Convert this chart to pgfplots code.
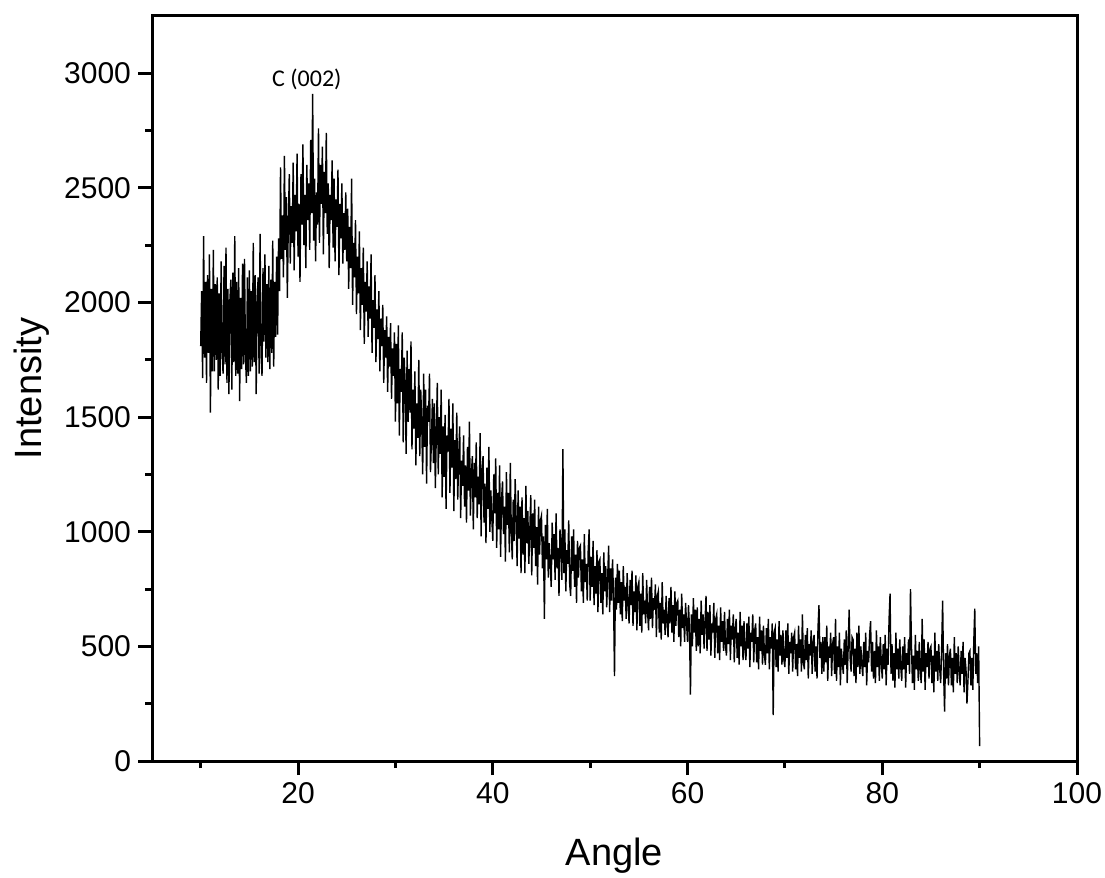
\documentclass[border=0pt]{standalone}
\usepackage{pgfplots}
\pgfplotsset{compat=1.18}
\usepackage{fontspec}
\setmainfont{Liberation Sans}
\newfontfamily\calibri{Carlito}
\begin{document}
\begin{tikzpicture}
\begin{axis}[
  scale only axis, width=462.5pt, height=372.5pt,
  xmin=5, xmax=100, ymin=0, ymax=3250,
  xtick={20,40,60,80,100}, minor xtick={10,30,50,70,90},
  ytick={0,500,1000,1500,2000,2500,3000},
  minor ytick={250,750,1250,1750,2250,2750},
  xtick pos=left, ytick pos=left,
  tick align=outside, major tick length=7pt, minor tick length=3.5pt,
  axis line style={line width=1.5pt},
  every tick/.style={line width=1.5pt, black},
  tick label style={font=\fontsize{15}{18}\selectfont},
  /pgf/number format/assume math mode=true,
  scaled y ticks=false,
  yticklabel style={/pgf/number format/1000 sep={}},
  xlabel=Angle, ylabel=Intensity,
  every axis x label/.style={at={(axis description cs:0.5,-0.1396)}, anchor=base, font=\fontsize{19}{23}\selectfont},
  every axis y label/.style={at={(axis description cs:-0.1193,0.5)}, rotate=90, anchor=base, font=\fontsize{19}{23}\selectfont},
]
\addplot[black, line width=0.7pt, mark=none] coordinates {
(10.0,1810)(10.1,2050)(10.2,1670)(10.3,2290)(10.4,1760)(10.5,2090)(10.6,1650)(10.7,2120)(10.8,1780)(10.9,2210)
(11.0,1520)(11.1,2060)(11.2,1700)(11.3,2230)(11.4,1700)(11.5,2080)(11.6,1750)(11.7,2110)(11.8,1620)(11.9,2040)
(12.0,1680)(12.1,2180)(12.2,1790)(12.3,1690)(12.4,2160)(12.5,1730)(12.6,2240)(12.7,1650)(12.8,2060)(12.9,1600)
(13.0,2010)(13.1,2100)(13.2,1620)(13.3,2130)(13.4,1740)(13.5,2290)(13.6,1680)(13.7,2090)(13.8,1690)(13.9,2150)
(14.0,1570)(14.1,2020)(14.2,1710)(14.3,2170)(14.4,1730)(14.5,2190)(14.6,1760)(14.7,1650)(14.8,2110)(14.9,1680)
(15.0,2140)(15.1,1700)(15.2,2050)(15.3,1720)(15.4,2260)(15.5,1740)(15.6,2120)(15.7,1600)(15.8,2000)(15.9,2110)
(16.0,1690)(16.1,2300)(16.2,1770)(16.3,1680)(16.4,2150)(16.5,1830)(16.6,2210)(16.7,1760)(16.8,2080)(16.9,1740)
(17.0,2160)(17.1,1710)(17.2,2100)(17.3,1780)(17.4,2270)(17.5,1720)(17.6,2090)(17.7,1850)(17.8,2200)(17.9,1860)
(18.0,2280)(18.1,2050)(18.2,2590)(18.3,2190)(18.4,2380)(18.5,2110)(18.6,2640)(18.7,2230)(18.8,2460)(18.9,2020)
(19.0,2350)(19.1,2560)(19.2,2170)(19.3,2420)(19.4,2260)(19.5,2610)(19.6,2140)(19.7,2470)(19.8,2310)(19.9,2650)
(20.0,2200)(20.1,2430)(20.2,2090)(20.3,2560)(20.4,2340)(20.5,2690)(20.6,2250)(20.7,2470)(20.8,2150)(20.9,2600)
(21.0,2360)(21.1,2520)(21.2,2230)(21.3,2710)(21.4,2390)(21.5,2910)(21.6,2270)(21.7,2540)(21.8,2180)(21.9,2480)
(22.0,2340)(22.1,2760)(22.2,2260)(22.3,2600)(22.4,2430)(22.5,2680)(22.6,2210)(22.7,2570)(22.8,2390)(22.9,2740)
(23.0,2300)(23.1,2520)(23.2,2150)(23.3,2470)(23.4,2360)(23.5,2620)(23.6,2240)(23.7,2540)(23.8,2180)(23.9,2450)
(24.0,2330)(24.1,2580)(24.2,2120)(24.3,2430)(24.4,2280)(24.5,2520)(24.6,2170)(24.7,2390)(24.8,2230)(24.9,2480)
(25.0,2180)(25.1,2410)(25.2,2060)(25.3,2330)(25.4,2150)(25.5,2540)(25.6,1990)(25.7,2260)(25.8,2110)(25.9,2360)
(26.0,1950)(26.1,2200)(26.2,2040)(26.3,2310)(26.4,1880)(26.5,2150)(26.6,1990)(26.7,2240)(26.8,1820)(26.9,2090)
(27.0,1960)(27.1,2180)(27.2,1850)(27.3,2070)(27.4,1930)(27.5,2210)(27.6,1780)(27.7,2010)(27.8,1890)(27.9,2120)
(28.0,1740)(28.1,1970)(28.2,1840)(28.3,2050)(28.4,1700)(28.5,1930)(28.6,1810)(28.7,1990)(28.8,1650)(28.9,1880)
(29.0,1760)(29.1,1940)(29.2,1610)(29.3,1850)(29.4,1720)(29.5,1910)(29.6,1580)(29.7,1800)(29.8,1680)(29.9,1870)
(30.0,1480)(30.1,1820)(30.2,1560)(30.3,1900)(30.4,1420)(30.5,1710)(30.6,1610)(30.7,1870)(30.8,1390)(30.9,1760)
(31.0,1650)(31.1,1340)(31.2,1790)(31.3,1480)(31.4,1710)(31.5,1520)(31.6,1830)(31.7,1360)(31.8,1620)(31.9,1450)
(32.0,1700)(32.1,1290)(32.2,1560)(32.3,1410)(32.4,1750)(32.5,1330)(32.6,1620)(32.7,1480)(32.8,1250)(32.9,1690)
(33.0,1370)(33.1,1620)(33.2,1210)(33.3,1550)(33.4,1480)(33.5,1690)(33.6,1260)(33.7,1400)(33.8,1580)(33.9,1300)
(34.0,1560)(34.1,1190)(34.2,1430)(34.3,1650)(34.4,1250)(34.5,1500)(34.6,1340)(34.7,1620)(34.8,1150)(34.9,1460)
(35.0,1240)(35.1,1510)(35.2,1100)(35.3,1420)(35.4,1350)(35.5,1580)(35.6,1170)(35.7,1450)(35.8,1280)(35.9,1560)
(36.0,1090)(36.1,1400)(36.2,1230)(36.3,1520)(36.4,1140)(36.5,1330)(36.6,1460)(36.7,1060)(36.8,1310)(36.9,1200)
(37.0,1420)(37.1,1110)(37.2,1290)(37.3,1040)(37.4,1370)(37.5,1180)(37.6,1480)(37.7,1070)(37.8,1250)(37.9,1330)
(38.0,1010)(38.1,1300)(38.2,1150)(38.3,1390)(38.4,1060)(38.5,1240)(38.6,1120)(38.7,1430)(38.8,980)(38.9,1270)
(39.0,1330)(39.1,1040)(39.2,1210)(39.3,950)(39.4,1280)(39.5,1100)(39.6,1370)(39.7,1000)(39.8,1180)(39.9,1060)
(40.0,960)(40.1,1250)(40.2,1080)(40.3,1320)(40.4,930)(40.5,1170)(40.6,1010)(40.7,1290)(40.8,890)(40.9,1140)
(41.0,1220)(41.1,990)(41.2,1110)(41.3,870)(41.4,1260)(41.5,1030)(41.6,1170)(41.7,910)(41.8,1300)(41.9,1000)
(42.0,880)(42.1,1140)(42.2,960)(42.3,1230)(42.4,1050)(42.5,850)(42.6,1180)(42.7,970)(42.8,1110)(42.9,820)
(43.0,1150)(43.1,900)(43.2,1060)(43.3,820)(43.4,1200)(43.5,950)(43.6,1090)(43.7,860)(43.8,1000)(43.9,1160)
(44.0,810)(44.1,1080)(44.2,930)(44.3,1140)(44.4,850)(44.5,1020)(44.6,770)(44.7,1110)(44.8,900)(44.9,1050)
(45.0,1070)(45.1,840)(45.2,980)(45.3,620)(45.4,1030)(45.5,880)(45.6,1100)(45.7,800)(45.8,950)(45.9,860)
(46.0,760)(46.1,1040)(46.2,880)(46.3,990)(46.4,790)(46.5,1080)(46.6,840)(46.7,930)(46.8,720)(46.9,1010)
(47.0,950)(47.1,790)(47.2,1360)(47.3,820)(47.4,1010)(47.5,740)(47.6,920)(47.7,860)(47.8,1050)(47.9,770)
(48.0,720)(48.1,980)(48.2,830)(48.3,1010)(48.4,760)(48.5,900)(48.6,690)(48.7,960)(48.8,800)(48.9,930)
(49.0,940)(49.1,740)(49.2,880)(49.3,690)(49.4,990)(49.5,780)(49.6,860)(49.7,700)(49.8,920)(49.9,1010)
(50.0,700)(50.1,890)(50.2,760)(50.3,960)(50.4,680)(50.5,850)(50.6,730)(50.7,920)(50.8,650)(50.9,870)
(51.0,880)(51.1,690)(51.2,820)(51.3,640)(51.4,910)(51.5,740)(51.6,850)(51.7,670)(51.8,800)(51.9,940)
(52.0,650)(52.1,840)(52.2,700)(52.3,880)(52.4,720)(52.5,370)(52.6,800)(52.7,660)(52.8,860)(52.9,690)
(53.0,830)(53.1,640)(53.2,780)(53.3,610)(53.4,850)(53.5,700)(53.6,760)(53.7,620)(53.8,820)(53.9,680)
(54.0,600)(54.1,790)(54.2,680)(54.3,830)(54.4,590)(54.5,740)(54.6,650)(54.7,810)(54.8,570)(54.9,760)
(55.0,780)(55.1,590)(55.2,730)(55.3,560)(55.4,820)(55.5,640)(55.6,700)(55.7,600)(55.8,790)(55.9,650)
(56.0,570)(56.1,760)(56.2,620)(56.3,800)(56.4,580)(56.5,710)(56.6,660)(56.7,770)(56.8,540)(56.9,720)
(57.0,740)(57.1,560)(57.2,690)(57.3,530)(57.4,780)(57.5,600)(57.6,660)(57.7,550)(57.8,720)(57.9,610)
(58.0,540)(58.1,710)(58.2,600)(58.3,760)(58.4,560)(58.5,680)(58.6,520)(58.7,740)(58.8,590)(58.9,690)
(59.0,700)(59.1,540)(59.2,660)(59.3,500)(59.4,730)(59.5,580)(59.6,640)(59.7,520)(59.8,690)(59.9,600)
(60.0,520)(60.1,680)(60.2,580)(60.3,290)(60.4,640)(60.5,500)(60.6,710)(60.7,560)(60.8,660)(60.9,480)
(61.0,670)(61.1,500)(61.2,620)(61.3,470)(61.4,700)(61.5,550)(61.6,640)(61.7,490)(61.8,610)(61.9,720)
(62.0,480)(62.1,650)(62.2,530)(62.3,680)(62.4,460)(62.5,600)(62.6,560)(62.7,690)(62.8,450)(62.9,620)
(63.0,640)(63.1,470)(63.2,590)(63.3,440)(63.4,670)(63.5,520)(63.6,610)(63.7,480)(63.8,650)(63.9,500)
(64.0,460)(64.1,620)(64.2,510)(64.3,660)(64.4,440)(64.5,590)(64.6,530)(64.7,640)(64.8,430)(64.9,580)
(65.0,620)(65.1,450)(65.2,560)(65.3,420)(65.4,650)(65.5,500)(65.6,590)(65.7,440)(65.8,610)(65.9,480)
(66.0,440)(66.1,600)(66.2,490)(66.3,630)(66.4,410)(66.5,560)(66.6,520)(66.7,640)(66.8,430)(66.9,570)
(67.0,600)(67.1,430)(67.2,540)(67.3,400)(67.4,630)(67.5,480)(67.6,570)(67.7,420)(67.8,590)(67.9,460)
(68.0,420)(68.1,580)(68.2,470)(68.3,620)(68.4,400)(68.5,540)(68.6,490)(68.7,600)(68.8,200)(68.9,560)
(69.0,580)(69.1,410)(69.2,530)(69.3,390)(69.4,610)(69.5,460)(69.6,550)(69.7,420)(69.8,570)(69.9,440)
(70.0,410)(70.1,570)(70.2,450)(70.3,600)(70.4,380)(70.5,520)(70.6,470)(70.7,560)(70.8,390)(70.9,540)
(71.0,560)(71.1,400)(71.2,510)(71.3,370)(71.4,590)(71.5,450)(71.6,530)(71.7,390)(71.8,640)(71.9,430)
(72.0,400)(72.1,550)(72.2,440)(72.3,580)(72.4,360)(72.5,510)(72.6,460)(72.7,570)(72.8,380)(72.9,520)
(73.0,550)(73.1,390)(73.2,500)(73.3,360)(73.4,580)(73.5,680)(73.6,450)(73.7,520)(73.8,380)(73.9,540)
(74.0,390)(74.1,540)(74.2,430)(74.3,590)(74.4,350)(74.5,500)(74.6,450)(74.7,560)(74.8,370)(74.9,510)
(75.0,540)(75.1,380)(75.2,620)(75.3,350)(75.4,500)(75.5,410)(75.6,560)(75.7,330)(75.8,490)(75.9,430)
(76.0,380)(76.1,530)(76.2,420)(76.3,570)(76.4,340)(76.5,500)(76.6,660)(76.7,450)(76.8,390)(76.9,540)
(77.0,530)(77.1,370)(77.2,490)(77.3,340)(77.4,560)(77.5,410)(77.6,590)(77.7,380)(77.8,500)(77.9,420)
(78.0,370)(78.1,520)(78.2,410)(78.3,560)(78.4,330)(78.5,480)(78.6,430)(78.7,550)(78.8,610)(78.9,390)
(79.0,520)(79.1,360)(79.2,480)(79.3,340)(79.4,570)(79.5,410)(79.6,500)(79.7,350)(79.8,540)(79.9,430)
(80.0,360)(80.1,510)(80.2,400)(80.3,550)(80.4,330)(80.5,490)(80.6,420)(80.7,620)(80.8,730)(80.9,380)
(81.0,510)(81.1,350)(81.2,470)(81.3,320)(81.4,560)(81.5,400)(81.6,490)(81.7,360)(81.8,530)(81.9,410)
(82.0,350)(82.1,500)(82.2,400)(82.3,540)(82.4,320)(82.5,470)(82.6,420)(82.7,530)(82.8,380)(82.9,750)
(83.0,500)(83.1,340)(83.2,460)(83.3,310)(83.4,550)(83.5,400)(83.6,480)(83.7,350)(83.8,520)(83.9,390)
(84.0,340)(84.1,620)(84.2,390)(84.3,530)(84.4,310)(84.5,470)(84.6,410)(84.7,520)(84.8,360)(84.9,490)
(85.0,500)(85.1,340)(85.2,460)(85.3,300)(85.4,560)(85.5,390)(85.6,480)(85.7,350)(85.8,510)(85.9,400)
(86.0,340)(86.1,490)(86.2,700)(86.3,390)(86.4,215)(86.5,470)(86.6,360)(86.7,510)(86.8,330)(86.9,460)
(87.0,490)(87.1,330)(87.2,450)(87.3,300)(87.4,540)(87.5,380)(87.6,470)(87.7,340)(87.8,500)(87.9,390)
(88.0,330)(88.1,480)(88.2,380)(88.3,520)(88.4,300)(88.5,450)(88.6,400)(88.7,250)(88.8,350)(88.9,470)
(89.0,480)(89.1,330)(89.2,450)(89.3,310)(89.4,520)(89.5,665)(89.6,380)(89.7,470)(89.8,340)(89.9,500)
(90.0,65)
};
\node[font=\calibri\fontsize{12}{14}\selectfont] at (axis cs:20.9,2975) {C (002)};
\end{axis}
\pgfresetboundingbox
\path[use as bounding box] ([xshift=-76pt,yshift=-58pt]current axis.south west) rectangle ([xshift=14pt,yshift=8pt]current axis.north east);
\end{tikzpicture}
\end{document}
